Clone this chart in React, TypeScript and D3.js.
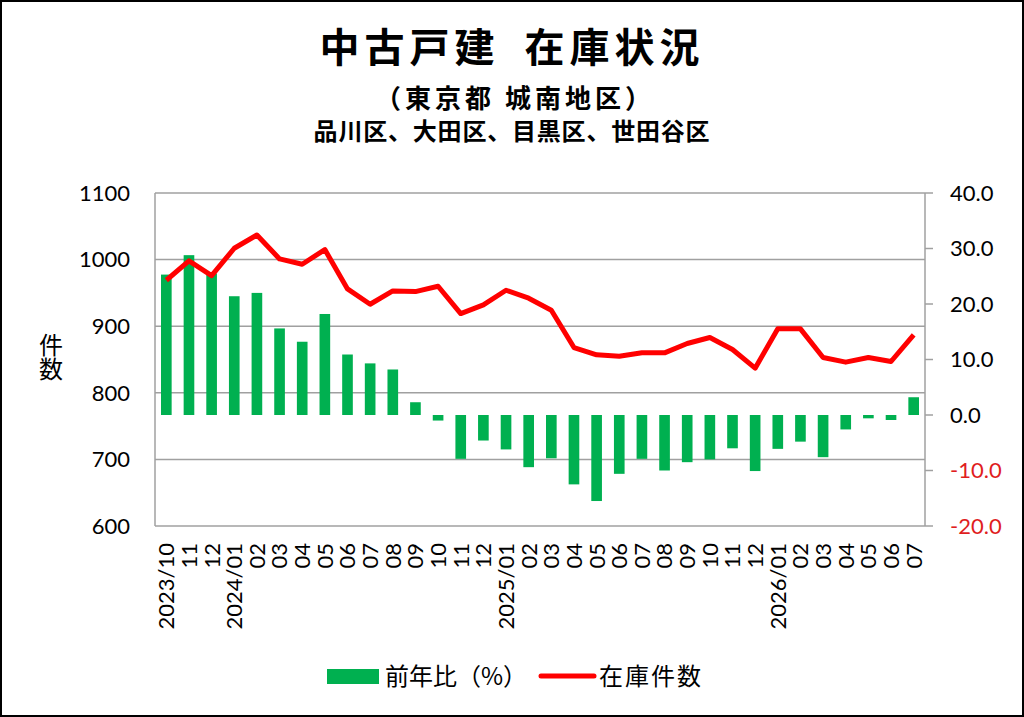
import * as d3 from "d3";

const W = 1024;
const H = 717;
const M = { left: 155, right: 925, top: 193, bottom: 526 };

const months = [
	"2023/10", "11", "12",
	"2024/01", "02", "03", "04", "05", "06", "07", "08", "09", "10", "11", "12",
	"2025/01", "02", "03", "04", "05", "06", "07", "08", "09", "10", "11", "12",
	"2026/01", "02", "03", "04", "05", "06", "07",
];

// 前年比 (%) — right axis
const yoy = [
	25.3, 28.8, 25.5, 21.4, 22.0, 15.6, 13.2, 18.2, 10.9, 9.3, 8.2, 2.3, -1.0, -7.9, -4.6, -6.2, -9.4,
	-7.8, -12.5, -15.5, -10.6, -7.9, -10.0, -8.5, -8.0, -6.0, -10.1, -6.1, -4.8, -7.6, -2.6, -0.6, -0.9, 3.2,
];

// 在庫件数 — left axis
const stock = [
	969, 998, 976, 1017, 1037, 1001, 993, 1015, 956, 933, 953, 952, 960, 919, 932, 954, 942,
	924, 868, 857, 855, 860, 860, 874, 883, 865, 837, 896, 896, 853, 846, 853, 847, 887,
];

const leftTicks = [600, 700, 800, 900, 1000, 1100];
const rightTicks = [-20, -10, 0, 10, 20, 30, 40];

const GREEN = "#00b050";
const RED = "#ff0000";
const GRID = "#a0a0a0";
const NUM_FONT = "Lato, 'Noto Sans', sans-serif";
const JP_FONT = "'Noto Sans CJK JP', sans-serif";

export default function App() {
	const x = d3
		.scaleBand<string>()
		.domain(months.map((_, i) => String(i)))
		.range([M.left, M.right])
		.paddingInner(0.53)
		.paddingOuter(0.265);
	const bw = x.bandwidth();
	const cx = (i: number) => (x(String(i)) as number) + bw / 2;

	const yL = d3.scaleLinear().domain([600, 1100]).range([M.bottom, M.top]);
	const yR = d3.scaleLinear().domain([-20, 40]).range([M.bottom, M.top]);

	const line = d3
		.line<number>()
		.x((_, i) => cx(i))
		.y((d) => yL(d));

	return (
		<svg
			width={W}
			height={H}
			viewBox={`0 0 ${W} ${H}`}
			style={{ position: "absolute", left: 0, top: 0, background: "#fff" }}
		>
			<rect x={1} y={1} width={W - 2} height={H - 2} fill="#fff" stroke="#000" strokeWidth={2} />

			{/* titles */}
			<text x={512} y={62} textAnchor="middle" fontFamily={JP_FONT} fontWeight={700} fontSize={40} letterSpacing={5}>
				中古戸建{"\u2002"}在庫状況
			</text>
			<text x={515} y={108} textAnchor="middle" fontFamily={JP_FONT} fontWeight={700} fontSize={26} letterSpacing={4}>
				（東京都 城南地区）
			</text>
			<text x={512} y={140} textAnchor="middle" fontFamily={JP_FONT} fontWeight={700} fontSize={24} letterSpacing={0.8}>
				品川区、大田区、目黒区、世田谷区
			</text>

			{/* grid */}
			{leftTicks.map((t) => (
				<line key={t} x1={M.left} x2={M.right} y1={yL(t)} y2={yL(t)} stroke={GRID} strokeWidth={1.5} />
			))}
			<line x1={M.left} x2={M.left} y1={M.top} y2={M.bottom} stroke={GRID} strokeWidth={1.5} />
			<line x1={M.right} x2={M.right} y1={M.top} y2={M.bottom} stroke={GRID} strokeWidth={1.5} />
			{rightTicks.map((t) => (
				<line key={t} x1={M.right} x2={M.right + 8} y1={yR(t)} y2={yR(t)} stroke={GRID} strokeWidth={1.5} />
			))}

			{/* bars */}
			{yoy.map((v, i) => (
				<rect
					key={i}
					x={x(String(i))}
					width={bw}
					y={Math.min(yR(v), yR(0))}
					height={Math.abs(yR(v) - yR(0))}
					fill={GREEN}
				/>
			))}

			{/* line */}
			<path d={line(stock) ?? ""} fill="none" stroke={RED} strokeWidth={5} strokeLinejoin="round" />

			{/* left axis labels */}
			{leftTicks.map((t) => (
				<text key={t} x={130} y={yL(t)} dy="0.35em" textAnchor="end" fontFamily={NUM_FONT} fontSize={22}>
					{t}
				</text>
			))}
			<text x={51} y={333} writingMode="vertical-rl" fontFamily={JP_FONT} fontSize={24}>
				件数
			</text>

			{/* right axis labels */}
			{rightTicks.map((t) => (
				<text
					key={t}
					x={950}
					y={yR(t)}
					dy="0.35em"
					fontFamily={NUM_FONT}
					fontSize={22}
					fill={t < 0 ? "#e01e1e" : "#000"}
				>
					{t.toFixed(1)}
				</text>
			))}

			{/* x labels */}
			{months.map((m, i) => (
				<text
					key={i}
					transform={`translate(${cx(i)},543) rotate(-90)`}
					dy="0.36em"
					textAnchor="end"
					fontFamily={NUM_FONT}
					fontSize={22}
				>
					{m}
				</text>
			))}

			{/* legend */}
			<rect x={327} y={669} width={52} height={15} fill={GREEN} />
			<text x={385} y={685} fontFamily={JP_FONT} fontSize={24}>前年比（%）</text>
			<line x1={541} x2={594} y1={676} y2={676} stroke={RED} strokeWidth={5} strokeLinecap="round" />
			<text x={599} y={685} fontFamily={JP_FONT} fontSize={24} letterSpacing={2}>在庫件数</text>
		</svg>
	);
}
